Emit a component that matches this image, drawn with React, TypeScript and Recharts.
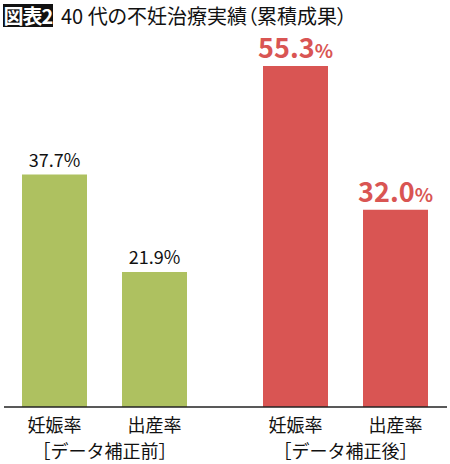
import React from 'react';
import { BarChart, Bar, XAxis, YAxis, Cell, LabelList } from 'recharts';

const groups = ['［データ補正前］', '［データ補正後］'];
const seriesNames = ['妊娠率', '出産率'];
const pregnancyRate = [37.7, 55.3];
const birthRate = [21.9, 32.0];
const groupColors = ['#aec160', '#d95553'];

const data = groups.map((g, i) => ({ group: g, pregnancy: pregnancyRate[i], birth: birthRate[i] }));

const FONT = '"Noto Sans CJK JP", "Noto Sans", sans-serif';
const BASE_Y = 407;

const ValueLabel = (props: any) => {
  const { x, y, width, value, index } = props;
  const cx = Number(x) + Number(width) / 2;
  const text = Number(value).toFixed(1);
  if (index === 1) {
    return (
      <text x={cx} y={Number(y) - 8} textAnchor="middle" fontFamily={FONT} fill={groupColors[1]} fontWeight="bold">
        <tspan fontSize={27}>{text}</tspan>
        <tspan fontSize={19}>%</tspan>
      </text>
    );
  }
  return (
    <text x={cx} y={Number(y) - 8} textAnchor="middle" fontFamily={FONT} fill="#111" fontSize={18}>
      {text}%
    </text>
  );
};

const nameLabel = (name: string) => (props: any) => {
  const { x, width } = props;
  return (
    <text x={Number(x) + Number(width) / 2} y={BASE_Y + 25} textAnchor="middle" fontFamily={FONT} fontSize={18} fill="#111">
      {name}
    </text>
  );
};

const GroupTick = (props: any) => {
  const { x, payload } = props;
  return (
    <text x={x} y={BASE_Y + 51} textAnchor="middle" fontFamily={FONT} fontSize={18} fill="#111">
      {payload.value}
    </text>
  );
};

export default function App() {
  return (
    <div style={{ position: 'absolute', left: 0, top: 0, width: 450, height: 464, background: '#fff', fontFamily: FONT }}>
      <div style={{ position: 'absolute', left: 3, top: 4, width: 50, height: 23, background: '#111', color: '#fff', fontWeight: 'bold', fontSize: 20, lineHeight: '23px', textAlign: 'center', letterSpacing: -1 }}>
        図表2
      </div>
      <div style={{ position: 'absolute', left: 61, top: 3, fontSize: 20, lineHeight: '25px', color: '#111', whiteSpace: 'nowrap', fontFeatureSettings: '"palt"' }}>
        40 代の不妊治療実績（累積成果）
      </div>
      <div style={{ position: 'absolute', left: 0, top: 0 }}>
        <BarChart width={450} height={464} data={data} margin={{ top: 37, right: 3, bottom: 0, left: 4 }} barSize={65} barGap={35}>
          <XAxis
            dataKey="group"
            height={57}
            padding={{ left: -20, right: -19 }}
            tickLine={false}
            tickSize={0}
            tickMargin={0}
            tick={<GroupTick />}
            axisLine={{ stroke: '#222', strokeWidth: 1.3 }}
            interval={0}
          />
          <YAxis hide domain={[0, 60]} />
          <Bar dataKey="pregnancy" name={seriesNames[0]} isAnimationActive={false}>
            {data.map((_, i) => <Cell key={i} fill={groupColors[i]} />)}
            <LabelList dataKey="pregnancy" content={ValueLabel} />
            <LabelList dataKey="pregnancy" content={nameLabel(seriesNames[0])} />
          </Bar>
          <Bar dataKey="birth" name={seriesNames[1]} isAnimationActive={false}>
            {data.map((_, i) => <Cell key={i} fill={groupColors[i]} />)}
            <LabelList dataKey="birth" content={ValueLabel} />
            <LabelList dataKey="birth" content={nameLabel(seriesNames[1])} />
          </Bar>
        </BarChart>
      </div>
    </div>
  );
}
